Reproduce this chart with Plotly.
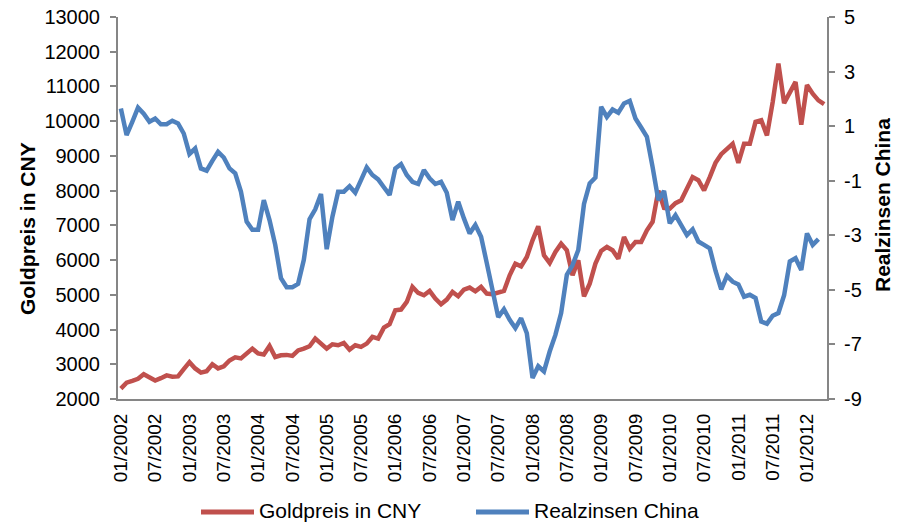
import pandas as pd
import plotly.graph_objects as go

months = list(pd.date_range("2002-01-01", periods=124, freq="MS").strftime("%m/%Y"))
tick_labels = months[::6]

left_ticks = [2000, 3000, 4000, 5000, 6000, 7000, 8000, 9000, 10000, 11000, 12000, 13000]
right_ticks = [-9, -7, -5, -3, -1, 1, 3, 5]

gold_cny = [
    2300, 2470, 2520, 2580, 2712, 2620, 2530, 2600, 2680, 2640,
    2650, 2860, 3060, 2880, 2760, 2800, 3000, 2880, 2940, 3110,
    3200, 3170, 3300, 3450, 3310, 3280, 3528, 3211, 3260, 3270,
    3240, 3400, 3450, 3518, 3739, 3595, 3451, 3576, 3547, 3614,
    3422, 3547, 3499, 3595, 3787, 3739, 4056, 4152, 4555, 4574,
    4795, 5227, 5054, 4987, 5112, 4891, 4727, 4862, 5083, 4958,
    5150, 5208, 5100, 5227, 5035, 5016, 5054, 5112, 5562, 5898,
    5821, 6090, 6570, 6973, 6138, 5917, 6234, 6474, 6282, 5562,
    5994, 4958, 5322, 5898, 6263, 6378, 6282, 6042, 6666, 6330,
    6522, 6522, 6858, 7100, 8000, 7500, 7480, 7640, 7720, 8060,
    8390, 8300, 8010, 8390, 8800, 9050, 9210, 9350, 8800, 9350,
    9350, 9980, 10025, 9590, 10550, 11660, 10520, 10840, 11130, 9900,
    11040, 10790, 10600, 10490,
]

real_rates_china = [
    1.65, 0.67, 1.16, 1.68, 1.46, 1.16, 1.28, 1.07, 1.07, 1.2,
    1.1, 0.73, -0.02, 0.18, -0.55, -0.63, -0.27, 0.06, -0.15, -0.55,
    -0.73, -1.4, -2.5, -2.8, -2.8, -1.71, -2.44, -3.35, -4.57, -4.9,
    -4.9, -4.78, -3.9, -2.41, -2.05, -1.49, -3.51, -2.32, -1.40, -1.40,
    -1.20, -1.44, -0.98, -0.51, -0.79, -0.95, -1.24, -1.52, -0.55, -0.39,
    -0.79, -1.04, -1.12, -0.61, -0.91, -1.12, -1.04, -1.44, -2.44, -1.77,
    -2.38, -2.93, -2.62, -3.05, -4.02, -5.12, -6.0, -5.71, -6.1, -6.4,
    -6.04, -6.59, -8.23, -7.8, -7.99, -7.26, -6.65, -5.85, -4.45, -4.09,
    -3.54, -1.85, -1.1, -0.88, 1.71, 1.34, 1.61, 1.49, 1.83, 1.93,
    1.28, 0.95, 0.61, -0.5, -1.71, -1.37, -2.56, -2.26, -2.6, -2.99,
    -2.78, -3.23, -3.35, -3.48, -4.3, -4.98, -4.49, -4.7, -4.8, -5.25,
    -5.18, -5.3, -6.16, -6.24, -5.95, -5.85, -5.2, -3.96, -3.84, -4.27,
    -2.93, -3.35, -3.14, None,
]

RED = "#C0504D"
BLUE = "#4F81BD"
AXIS = "#868686"
FONT = "Liberation Sans, Arial, sans-serif"

fig = go.Figure()
fig.add_trace(go.Scatter(x=months, y=gold_cny, name="Goldpreis in CNY", mode="lines",
                         line=dict(color=RED, width=4.5), yaxis="y", showlegend=False))
fig.add_trace(go.Scatter(x=months, y=real_rates_china, name="Realzinsen China", mode="lines",
                         line=dict(color=BLUE, width=4.5), yaxis="y2", showlegend=False,
                         connectgaps=False))

W, H = 904, 523
# plot area in page pixels
L, R, T, B = 118, 827, 17, 399

def px(x):
    return (x - L) / (R - L)

def py(y):
    return (B - y) / (B - T)

fig.update_layout(
    width=W, height=H,
    margin=dict(l=L, r=W - R, t=T, b=H - B, autoexpand=False),
    paper_bgcolor="white", plot_bgcolor="white",
    font=dict(family=FONT, size=20, color="black"),
    xaxis=dict(type="category", categoryorder="array", categoryarray=months,
               range=[-0.5, 123.5], tickmode="array", tickvals=tick_labels, ticktext=tick_labels,
               tickangle=-90, tickfont=dict(size=19), showline=True, linecolor=AXIS, linewidth=2,
               ticks="", showgrid=False, zeroline=False, automargin=False,
               ticklabelstandoff=5, ticklabeloverflow="allow"),
    yaxis=dict(range=[2000, 13000], tickmode="array", tickvals=left_ticks,
               ticktext=[str(v) for v in left_ticks], showline=True, linecolor=AXIS,
               linewidth=2, ticks="outside", ticklen=6, tickwidth=2, tickcolor=AXIS,
               showgrid=False, zeroline=False, tickfont=dict(size=20), automargin=False,
               ticklabelstandoff=6, ticklabeloverflow="allow"),
    yaxis3=dict(range=[2000, 13000], tickmode="array", tickvals=left_ticks, overlaying="y",
                side="left", anchor="x", showline=False, ticks="inside", ticklen=6, tickwidth=2,
                tickcolor=AXIS, showticklabels=False, showgrid=False, zeroline=False,
                automargin=False),
    yaxis2=dict(range=[-9, 5], tickmode="array", tickvals=right_ticks,
                ticktext=[str(v) for v in right_ticks], overlaying="y", side="right", anchor="x",
                showline=True, linecolor=AXIS, linewidth=2, ticks="outside", ticklen=6,
                tickwidth=2, tickcolor=AXIS, showgrid=False, zeroline=False,
                tickfont=dict(size=20), automargin=False,
                ticklabelstandoff=5, ticklabeloverflow="allow"),
)

annotations = [
    dict(text="<b>Goldpreis in CNY</b>", x=px(27), y=py(229), xref="paper", yref="paper",
         textangle=-90, showarrow=False, font=dict(size=21, family=FONT),
         xanchor="center", yanchor="middle"),
    dict(text="<b>Realzinsen China</b>", x=px(882), y=py(205), xref="paper", yref="paper",
         textangle=-90, showarrow=False, font=dict(size=21, family=FONT),
         xanchor="center", yanchor="middle"),
    dict(text="Goldpreis in CNY", x=px(257), y=py(511), xref="paper", yref="paper",
         showarrow=False, font=dict(size=21, family=FONT), xanchor="left", yanchor="middle"),
    dict(text="Realzinsen China", x=px(532), y=py(511), xref="paper", yref="paper",
         showarrow=False, font=dict(size=21, family=FONT), xanchor="left", yanchor="middle"),
]
shapes = [
    dict(type="line", xref="paper", yref="paper", x0=px(201), x1=px(254), y0=py(512), y1=py(512),
         line=dict(color=RED, width=5)),
    dict(type="line", xref="paper", yref="paper", x0=px(476), x1=px(529), y0=py(512), y1=py(512),
         line=dict(color=BLUE, width=5)),
]
fig.update_layout(annotations=annotations, shapes=shapes)

fig.write_html("out.html", config={"displayModeBar": False},
               post_script="document.body.style.margin='0';")
